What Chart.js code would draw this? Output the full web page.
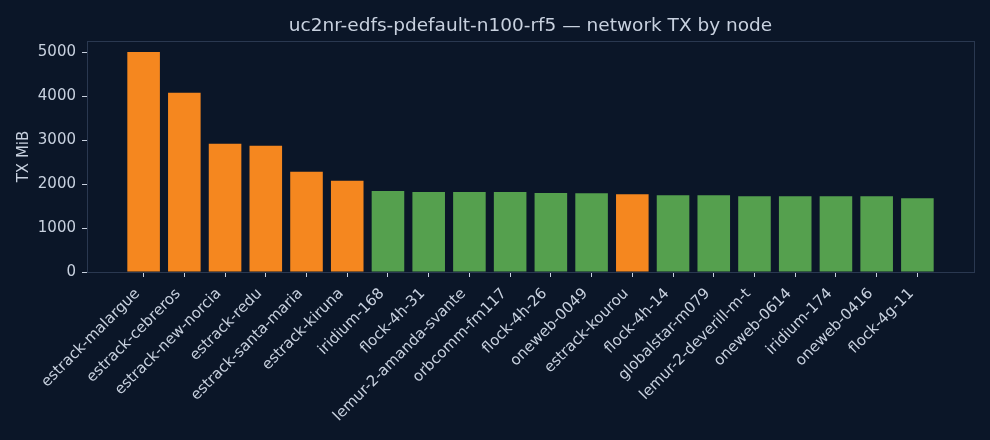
<!DOCTYPE html>
<html>
<head>
<meta charset="utf-8">
<script src="https://cdn.jsdelivr.net/npm/chart.js@4.4.1/dist/chart.umd.min.js"></script>
<style>
html,body{margin:0;padding:0;background:#0b1628;}
#wrap{width:990px;height:440px;position:relative;}
</style>
</head>
<body>
<div id="wrap"><canvas id="c"></canvas></div>
<script>
const titleText = "uc2nr-edfs-pdefault-n100-rf5 \u2014 network TX by node";
const yAxisLabel = "TX MiB";
const categories = [
  "estrack-malargue","estrack-cebreros","estrack-new-norcia","estrack-redu",
  "estrack-santa-maria","estrack-kiruna","iridium-168","flock-4h-31",
  "lemur-2-amanda-svante","orbcomm-fm117","flock-4h-26","oneweb-0049",
  "estrack-kourou","flock-4h-14","globalstar-m079","lemur-2-deverill-m-t",
  "oneweb-0614","iridium-174","oneweb-0416","flock-4g-11"
];
const txMiB = [
  5010, 4080, 2918, 2873, 2280, 2075, 1847, 1824, 1824, 1822,
  1797, 1795, 1771, 1750, 1749, 1727, 1726, 1726, 1725, 1681
];
const yTicks = [0, 1000, 2000, 3000, 4000, 5000];

const BG = "#0b1628";
const TEXT = "#c8d1df";
const SPINE = "#2a3850";
const ORANGE = "#f5871f";
const GREEN = "#55a04e";
const FONT = "'DejaVu Sans', sans-serif";

const colors = categories.map(c => c.startsWith("estrack") ? ORANGE : GREEN);
const points = categories.map((c, i) => ({x: i, y: txMiB[i]}));

const frame = {
  id: 'frame',
  beforeDraw(chart) {
    const ctx = chart.ctx;
    ctx.save();
    ctx.fillStyle = BG;
    ctx.fillRect(0, 0, chart.width, chart.height);
    ctx.restore();
  },
  afterDraw(chart) {
    const a = chart.chartArea, ctx = chart.ctx;
    ctx.save();
    ctx.strokeStyle = SPINE;
    ctx.lineWidth = 1;
    ctx.strokeRect(Math.round(a.left) + 0.5, Math.round(a.top) + 0.5,
                   Math.round(a.right - a.left), Math.round(a.bottom - a.top));
    // title centred over the plot area
    ctx.fillStyle = TEXT;
    ctx.font = "18.5px " + FONT;
    ctx.textAlign = 'center';
    ctx.textBaseline = 'middle';
    ctx.fillText(titleText, (a.left + a.right) / 2, 26.5);
    ctx.restore();
  }
};

Chart.defaults.font.family = FONT;
Chart.defaults.color = TEXT;

new Chart(document.getElementById('c'), {
  type: 'bar',
  data: {
    datasets: [{
      data: points,
      backgroundColor: colors,
      borderWidth: 0,
      categoryPercentage: 1.0,
      barPercentage: 0.8
    }]
  },
  options: {
    responsive: true,
    maintainAspectRatio: false,
    animation: false,
    layout: {padding: {left: 0, right: 16, top: 41, bottom: 0}},
    plugins: {
      legend: {display: false},
      tooltip: {enabled: false},
      title: {display: false}
    },
    scales: {
      x: {
        type: 'linear',
        min: -1.39,
        max: 20.39,
        offset: false,
        afterBuildTicks(scale) {
          scale.ticks = categories.map((c, i) => ({value: i}));
        },
        afterFit(scale) { scale.height = 440 - 41 - 231; },
        ticks: {
          autoSkip: false,
          minRotation: 45,
          maxRotation: 45,
          color: TEXT,
          font: {size: 15},
          padding: 8,
          labelOffset: -6,
          callback: (v) => categories[v] ?? ''
        },
        grid: {
          offset: false,
          drawOnChartArea: false,
          drawTicks: true,
          tickLength: 5,
          tickColor: TEXT,
          color: TEXT
        },
        border: {display: true, color: SPINE}
      },
      y: {
        min: 0,
        max: 5260,
        afterBuildTicks(scale) {
          scale.ticks = yTicks.map(v => ({value: v}));
        },
        afterFit(scale) { scale.width = 87; },
        ticks: {
          color: TEXT,
          font: {size: 15},
          padding: 6,
          callback: (v) => String(v)
        },
        grid: {
          drawOnChartArea: false,
          drawTicks: true,
          tickLength: 5,
          tickColor: TEXT,
          color: TEXT
        },
        border: {display: true, color: SPINE},
        title: {
          display: true,
          text: yAxisLabel,
          color: TEXT,
          font: {size: 15},
          padding: {top: 15, bottom: 0}
        }
      }
    }
  },
  plugins: [frame]
});
</script>
</body>
</html>
